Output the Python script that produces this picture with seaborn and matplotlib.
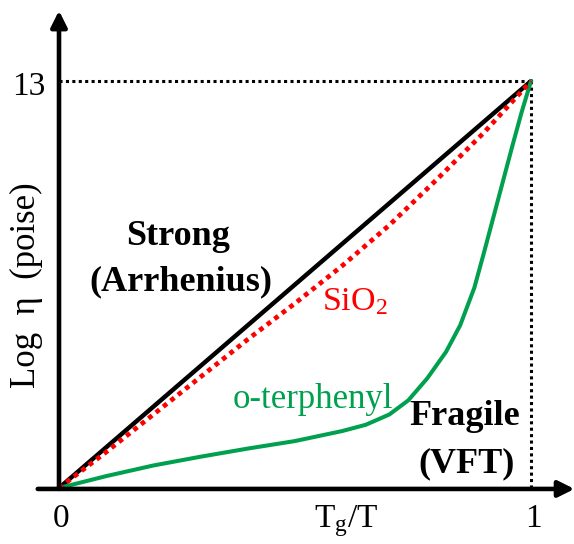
import numpy as np
import pandas as pd
import matplotlib
matplotlib.use("Agg")
import matplotlib.pyplot as plt
import seaborn as sns

# Reduced temperature Tg/T and log viscosity (poise) for the three liquids
strong_x = [0.0, 1.0]
strong_y = [0.0, 13.0]

sio2_x = [0.0, 0.1, 0.25, 0.4, 0.5, 0.6, 0.7, 0.8, 0.9, 1.0]
sio2_y = [0.0, 1.15, 2.95, 4.75, 5.9, 7.1, 8.4, 9.85, 11.35, 13.0]

oter_x = [0.0, 0.1, 0.2, 0.3, 0.4, 0.5, 0.6, 0.65, 0.7, 0.74, 0.78, 0.82,
          0.85, 0.88, 0.9, 0.93, 0.96, 0.98, 1.0]
oter_y = [0.0, 0.38, 0.72, 1.0, 1.26, 1.5, 1.82, 2.02, 2.35, 2.8, 3.5, 4.35,
          5.2, 6.4, 7.5, 9.2, 10.9, 12.0, 13.0]

x_ticks = [0, 1]
x_tick_labels = ["0", "1"]
y_top = 13
y_top_label = "13"

sns.set_style("white")
plt.rcParams["font.family"] = ["Liberation Serif", "DejaVu Serif"]
plt.rcParams["text.color"] = "black"
plt.rcParams["mathtext.fontset"] = "custom"
plt.rcParams["mathtext.rm"] = "Liberation Serif"
plt.rcParams["mathtext.it"] = "Liberation Serif:italic"
plt.rcParams["mathtext.bf"] = "Liberation Serif:bold"

fig = plt.figure(figsize=(5.74, 5.44), dpi=100)
ax = fig.add_axes([0, 0, 1, 1])
ax.set_xlim(-0.125, 1.0911)
ax.set_ylim(-1.789, 15.591)
ax.set_axis_off()

green = "#00a04e"
red = "#ff0000"

# dotted guides to the glass transition point
ax.plot([0, 1], [y_top, y_top], color="black", lw=2.2,
        linestyle=(0, (1, 1.1)), zorder=1)
ax.plot([1, 1], [0, y_top], color="black", lw=2.2,
        linestyle=(0, (1, 1.1)), zorder=1)

strong = pd.DataFrame({"x": strong_x, "y": strong_y})
sio2 = pd.DataFrame({"x": sio2_x, "y": sio2_y})
oter = pd.DataFrame({"x": oter_x, "y": oter_y})

sns.lineplot(data=strong, x="x", y="y", ax=ax, color="black", lw=3.2,
             estimator=None, sort=False, zorder=3)
sns.lineplot(data=oter, x="x", y="y", ax=ax, color=green, lw=2.9,
             estimator=None, sort=False, zorder=3)
sns.lineplot(data=sio2, x="x", y="y", ax=ax, color=red, lw=3.4,
             linestyle=(0, (1, 1)), estimator=None, sort=False, zorder=4)

# axes drawn as arrows
arrow = dict(arrowstyle="-|>,head_length=0.4,head_width=0.2",
             lw=3.3, color="black", mutation_scale=24,
             shrinkA=0, shrinkB=0)
ax.annotate("", xy=(1.092, -0.03), xytext=(-0.045, -0.03), arrowprops=arrow,
            zorder=5)
ax.annotate("", xy=(0.0, 15.25), xytext=(0.0, -0.03), arrowprops=arrow,
            zorder=5)

fs = 24
for xv, lab in zip(x_ticks, x_tick_labels):
    ax.text(xv + 0.005, -1.25, lab, ha="center", va="baseline", fontsize=fs)
ax.text(-0.064, 12.56, y_top_label, ha="center", va="baseline", fontsize=fs)

ax.text(0.608, -1.25, r"T$_\mathrm{g}$/T", ha="center", va="baseline",
        fontsize=fs)
ax.text(-0.068, 6.49, "Log  \u03b7  (poise)", rotation=90, ha="center",
        va="center", fontsize=25)

ax.text(0.252, 7.76, "Strong", ha="center", va="baseline", fontsize=26,
        fontweight="bold")
ax.text(0.258, 6.33, "(Arrhenius)", ha="center", va="baseline", fontsize=26,
        fontweight="bold")
ax.text(0.557, 5.69, r"SiO$_2$", ha="left", va="baseline", fontsize=24.5,
        color=red)
ax.text(0.367, 2.56, "o-terphenyl", ha="left", va="baseline", fontsize=25,
        color=green)
ax.text(0.860, 2.01, "Fragile", ha="center", va="baseline", fontsize=26,
        fontweight="bold")
ax.text(0.864, 0.51, "(VFT)", ha="center", va="baseline", fontsize=26,
        fontweight="bold")

fig.savefig("out.png", dpi=100)
